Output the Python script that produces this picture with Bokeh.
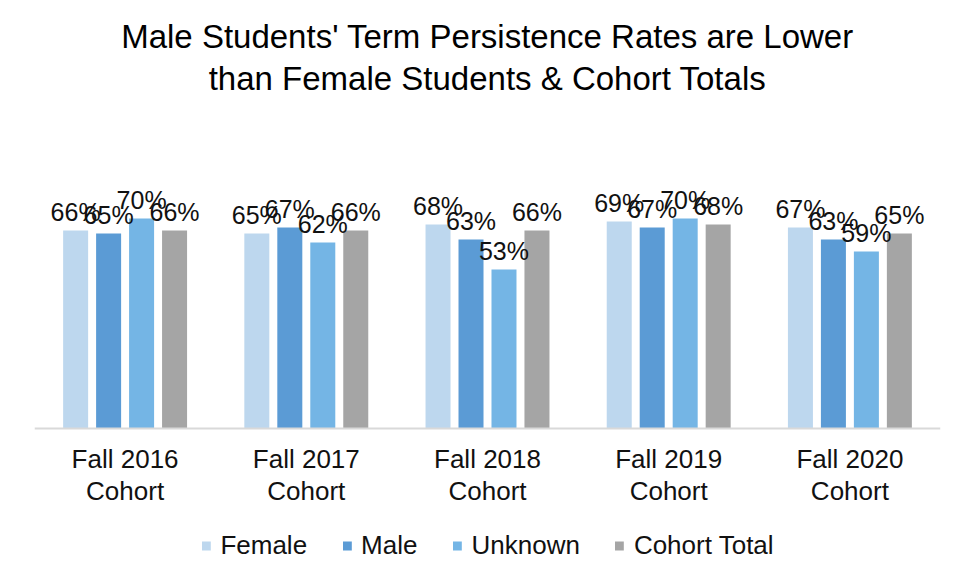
from bokeh.plotting import figure
from bokeh.models import ColumnDataSource, Legend, LegendItem, FactorRange, Title, Span
from bokeh.transform import dodge
from bokeh.core.properties import value
from bokeh.embed import file_html
from bokeh.resources import INLINE

cohorts = ["Fall 2016\nCohort", "Fall 2017\nCohort", "Fall 2018\nCohort", "Fall 2019\nCohort", "Fall 2020\nCohort"]
series = ["Female", "Male", "Unknown", "Cohort Total"]
female = [0.66, 0.65, 0.68, 0.69, 0.67]
male = [0.65, 0.67, 0.63, 0.67, 0.63]
unknown = [0.70, 0.62, 0.53, 0.70, 0.59]
total = [0.66, 0.66, 0.66, 0.68, 0.65]
colors = ["#BDD7EE", "#5B9BD5", "#74B5E5", "#A5A5A5"]
title_lines = ["Male Students' Term Persistence Rates are Lower", "than Female Students & Cohort Totals"]

FONT = "Liberation Sans"
TXT = "#111111"

p = figure(width=948, height=573, x_range=FactorRange(*cohorts, range_padding=0),
           y_range=(-0.48333, 1.1), output_backend="svg", toolbar_location=None, title=None,
           x_axis_location=None, y_axis_location=None,
           min_border_left=34, min_border_right=8, min_border_top=98, min_border_bottom=0)

for line in reversed(title_lines):
    t = Title(text=line, align="center", text_font=FONT, text_font_size="33px",
              text_font_style="normal", text_color="#000000", standoff=3)
    p.add_layout(t, "above")

data = dict(cohort=cohorts, base=[0] * len(cohorts),
            Female=female, Male=male, Unknown=unknown, Total=total)
for k, vals in zip(["Female", "Male", "Unknown", "Total"], [female, male, unknown, total]):
    data[k + "_lbl"] = ["%d%%" % round(v * 100) for v in vals]
src = ColumnDataSource(data)

offsets = [-0.273, -0.091, 0.091, 0.273]
keys = ["Female", "Male", "Unknown", "Total"]
items = []
for key, name, off, col in zip(keys, series, offsets, colors):
    r = p.vbar(x=dodge("cohort", off, range=p.x_range), top=key, bottom=0, width=0.138, source=src,
               fill_color=col, line_color=None)
    items.append(LegendItem(label=name, renderers=[r]))

# baseline (category axis line)
p.add_layout(Span(location=0, dimension="width", line_color="#D9D9D9", line_width=2))

for key, off in zip(keys, offsets):
    p.text(x=dodge("cohort", off, range=p.x_range), y=key, text=key + "_lbl", source=src,
           text_align="center", text_baseline="bottom", y_offset=-5,
           text_font=value(FONT), text_font_size="25px", text_color=TXT)

# category labels below the baseline
p.text(x="cohort", y="base", text="cohort", source=src, text_align="center",
       text_baseline="top", y_offset=15, text_line_height=1.07,
       text_font=value(FONT), text_font_size="26px", text_color=TXT)

p.xgrid.visible = False
p.ygrid.visible = False
p.outline_line_color = None

legend = Legend(items=items, orientation="horizontal", location="bottom_center",
                label_text_font=FONT, label_text_font_size="26px", label_text_color=TXT,
                glyph_width=11, glyph_height=11, label_standoff=9, spacing=34,
                border_line_color=None, background_fill_alpha=0, padding=4, margin=12)
p.add_layout(legend, "center")

open("out.html", "w").write(file_html(p, INLINE))
